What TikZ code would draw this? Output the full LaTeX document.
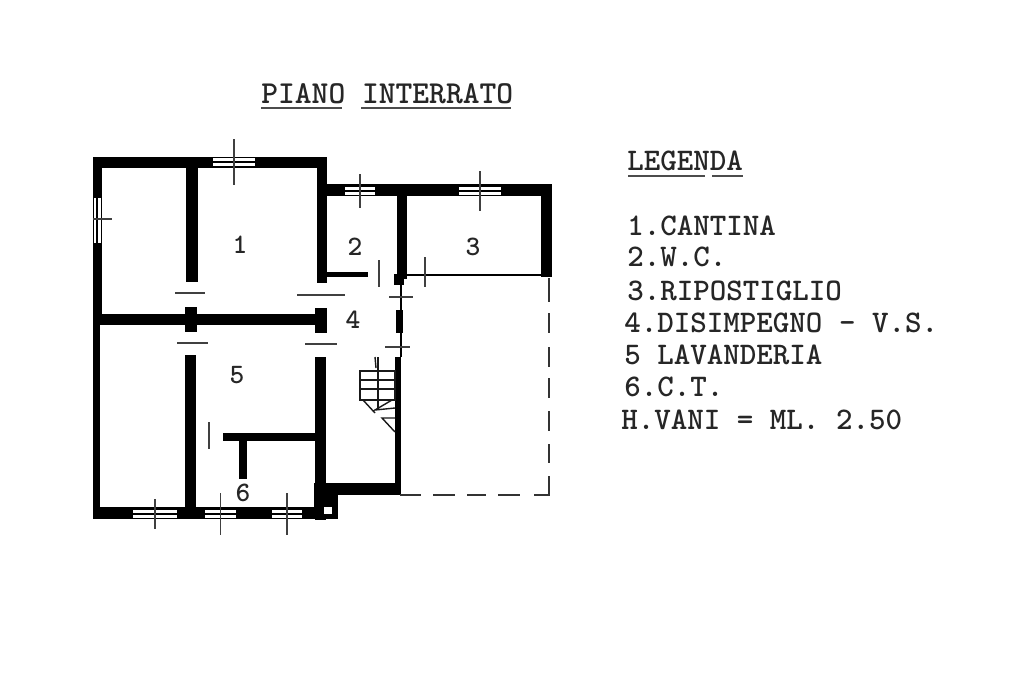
\documentclass[tikz,border=0pt]{standalone}
\usepackage{tikz}
\usepackage{xcolor}
\newcommand{\wall}[4] {
    \fill[black] (#1, #2) rectangle (#3, #4);
}
\newcommand{\hwindow}[5] {
    \fill[white] (#1, #2) rectangle (#3, #4);
    \draw[line width=1.1pt] (#1, {(#2+#4)/2}) -- (#3, {(#2+#4)/2});
    \draw[tick] ({(#1+#3)/2}, {(#2+#4)/2-#5}) -- ({(#1+#3)/2}, {(#2+#4)/2+#5});
}
\tikzset{
    x={(0.02cm,0cm)},
    y={(0cm,-0.02cm)},
    tick/.style={line width=0.6pt,black!75},
    rule/.style={line width=0.6pt,black!70},
    dashline/.style={line width=0.9pt,black!80},
    stair/.style={line width=0.8pt,black!90},
    room/.style={font=\fontsize{16}{18}\ttfamily\bfseries,black!85,inner sep=0mm},
    typed/.style={font=\fontsize{17.9}{20}\ttfamily\bfseries,black!85,inner sep=0mm,anchor=base west},
    headed/.style={typed,font=\fontsize{18.2}{20}\ttfamily\bfseries}
}
\begin{document}
\begin{tikzpicture}
    \useasboundingbox (0,0) rectangle (1024,683);
    % outer walls
    \wall{93}{157}{327}{168}
    \wall{93}{157}{102}{320}
    \wall{93}{320}{100}{519}
    \wall{317}{157}{327}{283}
    \wall{327}{184}{552}{196}
    \wall{541}{184}{552}{277}
    \wall{93}{507}{338}{519}
    % inner walls
    \wall{186}{157}{198}{282}
    \wall{93}{314}{327}{325}
    \wall{185}{307}{197}{332}
    \wall{315}{308}{327}{333}
    \wall{185}{355}{196}{515}
    \wall{315}{357}{326}{520}
    \wall{397}{184}{407}{279}
    \wall{394}{274}{404}{285}
    \wall{327}{272}{368}{277}
    \wall{400}{274}{541}{276}
    \wall{396}{310}{403}{333}
    \wall{395}{357}{401}{495}
    \wall{325}{483}{401}{495}
    \wall{314}{483}{338}{519}
    \wall{223}{433}{315}{441}
    \wall{239}{441}{247}{479}
    \fill[white] (324,507) rectangle (332,514);
    \draw[line width=0.6pt] (401,285) -- (401,357);
    % windows
    \foreach \xa/\ya/\xb/\yb/\len in {
        213/158/255/166/23,
        345/187/375/195/17,
        459/187/501/195/20,
        133/510/177/518/15,
        205/510/236/518/21,
        272/510/302/518/21
    } {
        \hwindow{\xa}{\ya}{\xb}{\yb}{\len}
    }
    \fill[white] (94,198) rectangle (101,243);
    \draw[line width=1.1pt] (97,198) -- (97,243);
    \draw[tick] (93,219) -- (112,219);
    % doors
    \foreach \xa/\ya/\xb in {175/293/205,297/295/345,177/343/208,305/344/337,389/297/413,385/347/410} {
        \draw[tick] (\xa,\ya) -- (\xb,\ya);
    }
    \foreach \xa/\ya/\yb in {379/260/287,425/257/287,209/422/449} {
        \draw[tick] (\xa,\ya) -- (\xa,\yb);
    }
    % stairs
    \draw[stair] (360,371) rectangle (395,400);
    \foreach \ya in {380,389} {
        \draw[stair] (360,\ya) -- (395,\ya);
    }
    \draw[stair] (378,357) -- (378,410);
    \draw[stair] (375,357) -- (376,368);
    \draw[stair] (363,400) -- (375,413);
    \draw[stair] (392,400) -- (375,410) -- (395,408);
    \draw[stair] (395,418) -- (382,418) -- (395,432);
    % dashed outline
    \foreach \ya/\yb in {278/302,313/333,347/367,378/398,411/431,444/463,476/496} {
        \draw[dashline] (549,\ya) -- (549,\yb);
    }
    \foreach \xa/\xb in {400/421,433/455,467/486,498/520,534/549} {
        \draw[dashline] (\xa,495) -- (\xb,495);
    }
    % rooms
    \foreach \num/\xa/\ya in {1/240/245,2/355/247,3/473/247,4/353/320,5/237/375,6/243/493} {
        \node[room] (room\num) at (\xa,\ya) {\num};
    }
    % title
    \node[headed] (title) at (261,103) {PIANO INTERRATO};
    \draw[rule] (261,108) -- (342,108);
    \draw[rule] (361,108) -- (511,108);
    % legend
    \node[typed] (legend) at (627,170) {LEGENDA};
    \draw[rule] (628,176) -- (705,176);
    \draw[rule] (712,176) -- (743,176);
    \foreach \nm/\xa/\ya/\txt in {
        a/627/235/1.CANTINA,
        b/627/266/2.W.C.,
        c/627/300/3.RIPOSTIGLIO,
        d/624/332/4.DISIMPEGNO - V.S.,
        e/624/364/5 LAVANDERIA,
        f/624/396/6.C.T.,
        g/621/429/H.VANI = ML. 2.50
    } {
        \node[typed] (item\nm) at (\xa,\ya) {\txt};
    }
\end{tikzpicture}
\end{document}
